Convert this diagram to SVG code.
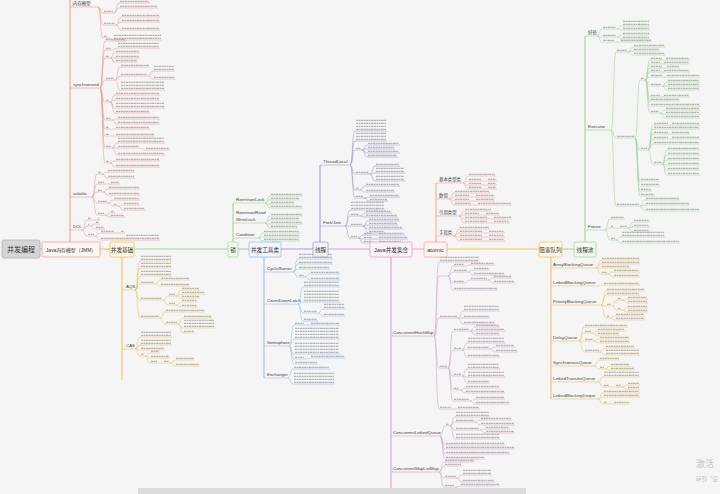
<svg xmlns="http://www.w3.org/2000/svg" width="720" height="494" viewBox="0 0 720 494">
<style>
.u{fill:none;stroke-width:.6}
.tr{fill:none;stroke-width:1.1}
.t{fill:none;stroke:#b3b3b3;stroke-width:1.1;stroke-dasharray:2.2 .5 1.4 .5 2.8 .5 1.8 .5}
.R{stroke:#f19d93}.O{stroke:#f6c15a}.G{stroke:#a3d795}.B{stroke:#9cc0ec}.P{stroke:#a59bd8}.K{stroke:#d9a3d1}.S{stroke:#f4aaa1}
.lb{font-family:"Liberation Sans","Noto Sans CJK SC",sans-serif;font-size:4.4px;fill:#444}
.bx{font-family:"Liberation Sans","Noto Sans CJK SC",sans-serif;font-size:5.6px;fill:#333;text-anchor:middle}
</style>
<rect width="720" height="494" fill="#f5f5f5"/>

<g id="connectors">
<path class="tr R" d="M40 249H42M70 242V-2"/>
<path class="tr O" d="M100 249H110M122 256V380M447 249H539M551 256V399"/>
<path class="tr G" d="M134 249H228M233 242V203M562 249H574M585 242V36"/>
<path class="tr B" d="M238 249H249M264 256V378"/>
<path class="tr P" d="M281 249H313M320 242V165"/>
<path class="tr K" d="M328 249H370M391 256V494"/>
<path class="tr S" d="M412 249H424M436 242V183"/>
</g>

<g id="branch-jmm">
<path class="u R" d="M70 7H98M70 88H100M70 197H92M70 230H82
M98 7C101 7 100 13 103 13H114M114 13C117 13 116 3 119 3H150M114 13C117 13 116 8 119 8H158M98 7C101 7 100 25 103 25H116M116 25C119 25 118 17 121 17H160M116 25C119 25 118 22 121 22H160M116 25C119 25 118 30 121 30H160M98 7C101 7 100 38 103 38H108M108 38C111 38 110 40 113 40H162
M100 88C103 88 102 41 105 41H126M100 88C103 88 102 50 105 50H112M112 50C115 50 114 48 117 48H160M100 88C103 88 102 58 105 58H110M110 58C113 58 112 53 115 53H140M110 58C113 58 112 58 115 58H140M110 58C113 58 112 62 115 62H138M100 88C103 88 102 80 105 80H115M115 80C118 80 117 67 120 67H150M115 80C118 80 117 76 120 76H148M148 76C151 76 150 71 153 71H175M148 76C151 76 150 79 153 79H175M115 80C118 80 117 90 120 90H165M100 88C103 88 102 102 105 102H110M110 102C113 102 112 95 115 95H160M110 102C113 102 112 100 115 100H160M110 102C113 102 112 108 115 108H165M110 102C113 102 112 113 115 113H150M100 88C103 88 102 120 105 120H112M112 120C115 120 114 119 117 119H160M112 120C115 120 114 124 117 124H160M100 88C103 88 102 129 105 129H110M110 129C113 129 112 129 115 129H150M100 88C103 88 102 136 105 136H110M110 136C113 136 112 136 115 136H155M100 88C103 88 102 148 105 148H112M112 148C115 148 114 143 117 143H165M112 148C115 148 114 148 117 148H140M140 148C143 148 142 150 145 150H170M112 148C115 148 114 155 117 155H165M100 88C103 88 102 163 105 163H110M110 163C113 163 112 161 115 161H160M110 163C113 163 112 167 115 167H160
M92 197C95 197 94 174 97 174H102M102 174C105 174 104 172 107 172H135M102 174C105 174 104 178 107 178H135M92 197C95 197 94 184 97 184H105M105 184C108 184 107 184 110 184H120M92 197C95 197 94 192 97 192H103M103 192C106 192 105 189 108 189H140M103 192C106 192 105 195 108 195H140M92 197C95 197 94 203 97 203H108M108 203C111 203 110 200 113 200H140M108 203C111 203 110 206 113 206H118M118 206C121 206 120 205 123 205H140M118 206C121 206 120 210 123 210H145M92 197C95 197 94 215 97 215H105M105 215C108 215 107 213 110 213H115M105 215C108 215 107 217 110 217H125
M82 230C85 230 84 220 87 220H92M92 220C95 220 94 220 97 220H100M82 230C85 230 84 226 87 226H90M90 226C93 226 92 224 95 224H100M90 226C93 226 92 229 95 229H105M82 230C85 230 84 236 87 236H95M95 236C98 236 97 233 100 233H115M115 233C118 233 117 233 120 233H125M95 236C98 236 97 240 100 240H160"/>
<path class="t" d="M104 11.4H113M120 1.4H149M120 6.4H157M104 23.4H115M122 15.4H159M122 20.4H159M122 28.4H159M104 36.4H107M114 38.4H161M114 35.4H161
M106 39.4H125M106 48.4H111M118 46.4H159M118 43.4H159M106 56.4H109M116 51.4H139M116 56.4H139M116 60.4H137M106 78.4H114M121 65.4H149M121 74.4H147M154 69.4H174M154 66.4H174M154 77.4H174M121 88.4H164M121 85.4H164M121 82.4H164M106 100.4H109M116 93.4H159M116 98.4H159M116 106.4H164M116 103.4H164M116 111.4H149M106 118.4H111M118 117.4H159M118 122.4H159M106 127.4H109M116 127.4H149M106 134.4H109M116 134.4H154M106 146.4H111M118 141.4H164M118 138.4H164M118 146.4H139M146 148.4H169M118 153.4H164M106 161.4H109M116 159.4H159M116 165.4H159
M98 172.4H101M108 170.4H134M108 176.4H134M98 182.4H104M111 182.4H119M98 190.4H102M109 187.4H139M109 193.4H139M98 201.4H107M114 198.4H139M114 204.4H117M124 203.4H139M124 208.4H144M98 213.4H104M111 211.4H114M111 215.4H124
M88 218.4H91M98 218.4H99M88 224.4H89M96 222.4H99M96 227.4H104M88 234.4H94M101 231.4H114M121 231.4H124M101 238.4H159M126 235.4H159"/>
<text class="lb" x="73" y="5">内存模型</text>
<text class="lb" x="73" y="86">synchronized</text>
<text class="lb" x="73" y="195">volatile</text>
<text class="lb" x="73" y="228">DCL</text>
</g>

<g id="branch-basic">
<path class="u O" d="M122 290H135M122 349H135
M135 290C138 290 137 261 140 261H172M135 290C138 290 137 268 140 268H172M135 290C138 290 137 276 140 276H172M135 290C138 290 137 284 140 284H155M155 284C158 284 157 280 160 280H190M155 284C158 284 157 286 160 286H190M135 290C138 290 137 300 140 300H163M163 300C166 300 165 296 168 296H176M176 296C179 296 178 290 181 290H200M176 296C179 296 178 294 181 294H205M176 296C179 296 178 298 181 298H200M163 300C166 300 165 305 168 305H176M176 305C179 305 178 302 181 302H198M176 305C179 305 178 307 181 307H198M135 290C138 290 137 318 140 318H160M160 318C163 318 162 312 165 312H205M160 318C163 318 162 324 165 324H178M178 324C181 324 180 318 183 318H212M178 324C181 324 180 328 183 328H215M178 324C181 324 180 333 183 333H195
M135 349C138 349 137 337 140 337H172M135 349C138 349 137 345 140 345H172M135 349C138 349 137 350 140 350H165M135 349C138 349 137 356 140 356H145M145 356C148 356 147 353 150 353H160M145 356C148 356 147 358 150 358H170M145 356C148 356 147 363 150 363H158M158 363C161 363 160 363 163 363H170M170 363C173 363 172 360 175 360H195M170 363C173 363 172 366 175 366H200"/>
<path class="t" d="M141 259.4H171M141 256.4H171M141 266.4H171M141 263.4H171M141 274.4H171M141 271.4H171M141 282.4H154M161 278.4H189M161 284.4H189M141 298.4H162M169 294.4H175M182 288.4H199M182 292.4H204M182 296.4H199M169 303.4H175M182 300.4H197M182 305.4H197M141 316.4H159M166 310.4H204M166 322.4H177M184 316.4H211M184 326.4H214M184 323.4H214M184 320.4H214M184 331.4H194M141 335.4H171M141 332.4H171M141 343.4H171M141 340.4H171M141 348.4H164M141 354.4H144M151 351.4H159M151 356.4H169M151 361.4H157M164 361.4H169M176 358.4H194M176 364.4H199"/>
<text class="lb" x="126" y="288">AQS</text>
<text class="lb" x="126" y="347">CAS</text>
</g>

<g id="branch-lock">
<path class="u G" d="M233 203H265M233 223H265M233 238H258
M265 203C268 203 267 196 270 196H303M265 203C268 203 267 200 270 200H300M265 203C268 203 267 204 270 204H295M265 203C268 203 267 208 270 208H303M265 223C268 223 267 216 270 216H303M265 223C268 223 267 220 270 220H300M265 223C268 223 267 224 270 224H303M265 223C268 223 267 228 270 228H298M258 238C261 238 260 233 263 233H300M258 238C261 238 260 237 263 237H300M258 238C261 238 260 241 263 241H300"/>
<path class="t" d="M271 194.4H302M271 198.4H299M271 202.4H294M271 206.4H302M271 214.4H302M271 218.4H299M271 222.4H302M271 226.4H297M264 231.4H299M264 235.4H299M264 239.4H299"/>
<text class="lb" x="236" y="201">ReentrantLock</text>
<text class="lb" x="236" y="214">ReentrantRead</text>
<text class="lb" x="236" y="221">WriteLock</text>
<text class="lb" x="236" y="236">Condition</text>
</g>

<g id="branch-tools">
<path class="u B" d="M264 272H293M264 304H298M264 346H289M264 378H288
M293 272C296 272 295 259 298 259H333M293 272C296 272 295 264 298 264H333M293 272C296 272 295 269 298 269H330M293 272C296 272 295 277 298 277H305M305 277C308 277 307 274 310 274H340M305 277C308 277 307 280 310 280H340M298 304C301 304 300 287 303 287H340M298 304C301 304 300 302 303 302H340M298 304C301 304 300 313 303 313H318M318 313C321 313 320 309 323 309H345M318 313C321 313 320 316 323 316H345M298 304C301 304 300 321 303 321H318M289 346C292 346 291 325 294 325H305M305 325C308 325 307 325 310 325H340M289 346C292 346 291 339 294 339H340M289 346C292 346 291 354 294 354H340M289 346C292 346 291 359 294 359H305M305 359C308 359 307 358 310 358H345M289 346C292 346 291 364 294 364H318M288 378C291 378 290 369 293 369H330M288 378C291 378 290 384 293 384H335"/>
<path class="t" d="M299 257.4H332M299 254.4H332M299 262.4H332M299 267.4H329M299 275.4H304M311 272.4H339M311 278.4H339M304 285.4H339M304 282.4H339M304 300.4H339M304 297.4H339M304 294.4H339M304 291.4H339M304 311.4H317M324 307.4H344M324 304.4H344M324 314.4H344M304 319.4H317M295 323.4H304M311 323.4H339M295 337.4H339M295 334.4H339M295 331.4H339M295 328.4H339M295 352.4H339M295 349.4H339M295 346.4H339M295 343.4H339M295 357.4H304M311 356.4H344M295 362.4H317M294 367.4H329M294 382.4H334M294 379.4H334M294 376.4H334M294 373.4H334"/>
<text class="lb" x="267" y="270">CyclicBarrier</text>
<text class="lb" x="267" y="302">CountDownLatch</text>
<text class="lb" x="267" y="344">Semaphore</text>
<text class="lb" x="267" y="376">Exchanger</text>
</g>

<g id="branch-thread">
<path class="u P" d="M320 165H350M320 226H345
M350 165C353 165 352 131 355 131H387M350 165C353 165 352 141 355 141H387M350 165C353 165 352 150 355 150H362M362 150C365 150 364 145 367 145H400M362 150C365 150 364 149 367 149H395M362 150C365 150 364 153 367 153H400M362 150C365 150 364 157 367 157H398M350 165C353 165 352 174 355 174H370M370 174C373 174 372 166 375 166H400M370 174C373 174 372 173 375 173H405M370 174C373 174 372 181 375 181H405M350 165C353 165 352 190 355 190H360M360 190C363 190 362 186 365 186H400M360 190C363 190 362 192 365 192H395M350 165C353 165 352 198 355 198H364M364 198C367 198 366 197 369 197H400M364 198C367 198 366 201 369 201H388
M345 226C348 226 347 210 350 210H385M345 226C348 226 347 216 350 216H360M360 216C363 216 362 213 365 213H392M360 216C363 216 362 217 365 217H398M345 226C348 226 347 226 350 226H363M363 226C366 226 365 221 368 221H400M363 226C366 226 365 225 368 225H398M363 226C366 226 365 229 368 229H403M363 226C366 226 365 233 368 233H385M345 226C348 226 347 238 350 238H358M358 238C361 238 360 235 363 235H373M373 235C376 235 375 235 378 235H405M358 238C361 238 360 239 363 239H373M373 239C376 239 375 239 378 239H408M358 238C361 238 360 243 363 243H373M373 243C376 243 375 243 378 243H402"/>
<path class="t" d="M356 129.4H386M356 126.4H386M356 123.4H386M356 120.4H386M356 139.4H386M356 136.4H386M356 133.4H386M356 148.4H361M368 143.4H399M368 147.4H394M368 151.4H399M368 155.4H397M356 172.4H369M376 164.4H399M376 171.4H404M376 168.4H404M376 179.4H404M376 176.4H404M356 188.4H359M366 184.4H399M366 190.4H394M356 196.4H363M370 195.4H399M370 199.4H387M351 208.4H384M351 205.4H384M351 202.4H384M351 214.4H359M366 211.4H391M366 215.4H397M351 224.4H362M369 219.4H399M369 223.4H397M369 227.4H402M369 231.4H384M351 236.4H357M364 233.4H372M379 233.4H404M364 237.4H372M379 237.4H407M364 241.4H372M379 241.4H401"/>
<text class="lb" x="323" y="163">ThreadLocal</text>
<text class="lb" x="323" y="224">Fork/Join</text>
</g>

<g id="branch-collections">
<path class="u K" d="M391 336H434M391 436H440M391 472H439
M434 336C437 336 436 262 439 262H480M434 336C437 336 436 276 439 276H448M448 276C451 276 450 266 453 266H465M465 266C468 266 467 265 470 265H495M448 276C451 276 450 272 453 272H468M468 272C471 272 470 270 473 270H490M468 272C471 272 470 275 473 275H505M448 276C451 276 450 283 453 283H465M465 283C468 283 467 280 470 280H488M488 280C491 280 490 278 493 278H512M488 280C491 280 490 283 493 283H515M448 276C451 276 450 290 453 290H498M434 336C437 336 436 318 439 318H458M458 318C461 318 460 311 463 311H500M458 318C461 318 460 318 463 318H490M458 318C461 318 460 324 463 324H495M434 336C437 336 436 368 439 368H448M448 368C451 368 450 331 453 331H470M470 331C473 331 472 327 475 327H500M470 331C473 331 472 331 475 331H505M470 331C473 331 472 335 475 335H500M448 368C451 368 450 350 453 350H462M462 350C465 350 464 343 467 343H505M462 350C465 350 464 349 467 349H490M490 349C493 349 492 347 495 347H515M490 349C493 349 492 352 495 352H518M462 350C465 350 464 357 467 357H500M448 368C451 368 450 376 453 376H462M462 376C465 376 464 369 467 369H500M462 376C465 376 464 377 467 377H505M462 376C465 376 464 383 467 383H490M448 368C451 368 450 390 453 390H460M460 390C463 390 462 388 465 388H500M460 390C463 390 462 393 465 393H505M448 368C451 368 450 401 453 401H470M470 401C473 401 472 399 475 399H505M470 401C473 401 472 404 475 404H510M434 336C437 336 436 409 439 409H452M452 409C455 409 454 409 457 409H480
M440 436C443 436 442 426 445 426H450M450 426C453 426 452 417 455 417H490M450 426C453 426 452 422 455 422H475M475 422C478 422 477 420 480 420H512M475 422C478 422 477 425 480 425H515M450 426C453 426 452 430 455 430H480M480 430C483 430 482 429 485 429H510M480 430C483 430 482 433 485 433H515M450 426C453 426 452 439 455 439H500M440 436C443 436 442 445 445 445H505M440 436C443 436 442 449 445 449H515M440 436C443 436 442 454 445 454H510M440 436C443 436 442 459 445 459H485
M439 472C442 472 441 462 444 462H475M439 472C442 472 441 466 444 466H462M439 472C442 472 441 478 444 478H457M457 478C460 478 459 475 462 475H492M457 478C460 478 459 482 462 482H495M439 472C442 472 441 487 444 487H455M455 487C458 487 457 486 460 486H500M455 487C458 487 457 491 460 491H505"/>
<path class="t" d="M440 260.4H479M440 257.4H479M454 264.4H464M471 263.4H494M454 270.4H467M474 268.4H489M474 273.4H504M454 281.4H464M471 278.4H487M494 276.4H511M494 281.4H514M454 288.4H497M440 316.4H457M464 309.4H499M464 306.4H499M464 316.4H489M464 322.4H494M440 366.4H447M454 329.4H469M476 325.4H499M476 329.4H504M476 333.4H499M454 348.4H461M468 341.4H504M468 338.4H504M468 347.4H489M496 345.4H514M496 350.4H517M468 355.4H499M454 374.4H461M468 367.4H499M468 364.4H499M468 375.4H504M468 372.4H504M468 381.4H489M454 388.4H459M466 386.4H499M466 391.4H504M454 399.4H469M476 397.4H504M476 402.4H509M440 407.4H451M458 407.4H479
M446 424.4H449M456 415.4H489M456 412.4H489M456 420.4H474M481 418.4H511M481 423.4H514M456 428.4H479M486 427.4H509M486 431.4H514M456 437.4H499M456 434.4H499M446 443.4H504M446 447.4H514M446 452.4H509M446 457.4H484
M445 460.4H474M445 464.4H461M445 476.4H456M463 473.4H491M463 470.4H491M463 480.4H494M445 485.4H454M461 484.4H499M461 489.4H504"/>
<text class="lb" x="393" y="334">ConcurrentHashMap</text>
<text class="lb" x="393" y="434">ConcurrentLinkedQueue</text>
<text class="lb" x="393" y="470">ConcurrentSkipListMap</text>
</g>

<g id="branch-atomic">
<path class="u S" d="M436 183H463M436 199H449M436 216H459M436 236H454
M463 183C466 183 465 176 468 176H496M463 183C466 183 465 181 468 181H482M482 181C485 181 484 181 487 181H497M463 183C466 183 465 185 468 185H482M482 185C485 185 484 185 487 185H497M463 183C466 183 465 189 468 189H482M482 189C485 189 484 189 487 189H497M449 199C452 199 451 193 454 193H490M449 199C452 199 451 197 454 197H470M470 197C473 197 472 197 475 197H495M449 199C452 199 451 201 454 201H470M470 201C473 201 472 201 475 201H495M449 199C452 199 451 205 454 205H472M472 205C475 205 474 205 477 205H512M459 216C462 216 461 211 464 211H492M459 216C462 216 461 215 464 215H480M480 215C483 215 482 215 485 215H500M459 216C462 216 461 219 464 219H488M488 219C491 219 490 219 493 219H512M459 216C462 216 461 223 464 223H488M488 223C491 223 490 223 493 223H510M454 236C457 236 456 229 459 229H490M454 236C457 236 456 233 459 233H483M483 233C486 233 485 233 488 233H505M454 236C457 236 456 237 459 237H483M483 237C486 237 485 237 488 237H505M454 236C457 236 456 241 459 241H483M483 241C486 241 485 241 488 241H505"/>
<path class="t" d="M469 174.4H495M469 179.4H481M488 179.4H496M469 183.4H481M488 183.4H496M469 187.4H481M488 187.4H496M455 191.4H489M455 195.4H469M476 195.4H494M455 199.4H469M476 199.4H494M455 203.4H471M478 203.4H511M465 209.4H491M465 213.4H479M486 213.4H499M465 217.4H487M494 217.4H511M465 221.4H487M494 221.4H509M460 227.4H489M460 231.4H482M489 231.4H504M460 235.4H482M489 235.4H504M460 239.4H482M489 239.4H504"/>
<text class="lb" x="439" y="181">基本类型类</text>
<text class="lb" x="439" y="197">数组</text>
<text class="lb" x="439" y="214">引用类型</text>
<text class="lb" x="439" y="234">字段类</text>
</g>

<g id="branch-queue">
<path class="u O" d="M551 268H596M551 286H598M551 305H601M551 341H579M551 366H594M551 382H598M551 399H598
M596 268C599 268 598 260 601 260H640M596 268C599 268 598 264 601 264H640M596 268C599 268 598 268 601 268H630M596 268C599 268 598 274 601 274H608M608 274C611 274 610 272 613 272H640M608 274C611 274 610 277 613 277H640M598 286C601 286 600 285 603 285H640M601 305C604 305 603 291 606 291H645M601 305C604 305 603 295 606 295H640M601 305C604 305 603 306 606 306H612M612 306C615 306 614 300 617 300H622M622 300C625 300 624 299 627 299H648M622 300C625 300 624 303 627 303H648M612 306C615 306 614 310 617 310H622M622 310C625 310 624 308 627 308H648M622 310C625 310 624 312 627 312H648M601 305C604 305 603 318 606 318H610M610 318C613 318 612 316 615 316H645M610 318C613 318 612 320 615 320H645M579 341C582 341 581 327 584 327H628M579 341C582 341 581 333 584 333H592M592 333C595 333 594 331 597 331H625M592 333C595 333 594 335 597 335H620M579 341C582 341 581 341 584 341H594M594 341C597 341 596 339 599 339H630M594 341C597 341 596 343 599 343H630M579 341C582 341 581 352 584 352H600M600 352C603 352 602 348 605 348H635M600 352C603 352 602 355 605 355H640M594 366C597 366 596 360 599 360H620M594 366C597 366 596 369 599 369H605M605 369C608 369 607 366 610 366H630M605 369C608 369 607 370 610 370H635M598 382C601 382 600 377 603 377H640M598 382C601 382 600 387 603 387H610M610 387C613 387 612 387 615 387H622M622 387C625 387 624 385 627 385H640M622 387C625 387 624 389 627 389H640M598 399C601 399 600 393 603 393H640M598 399C601 399 600 397 603 397H640M598 399C601 399 600 404 603 404H608M608 404C611 404 610 404 613 404H630"/>
<path class="t" d="M602 258.4H639M602 262.4H639M602 266.4H629M602 272.4H607M614 270.4H639M614 275.4H639M604 283.4H639M607 289.4H644M607 293.4H639M607 304.4H611M618 298.4H621M628 297.4H647M628 301.4H647M618 308.4H621M628 306.4H647M628 310.4H647M607 316.4H609M616 314.4H644M616 318.4H644M585 325.4H627M585 331.4H591M598 329.4H624M598 333.4H619M585 339.4H593M600 337.4H629M600 341.4H629M585 350.4H599M606 346.4H634M606 353.4H639M606 350.4H639M600 358.4H619M600 367.4H604M611 364.4H629M611 368.4H634M604 375.4H639M604 372.4H639M604 385.4H609M616 385.4H621M628 383.4H639M628 387.4H639M604 391.4H639M604 395.4H639M604 402.4H607M614 402.4H629"/>
<text class="lb" x="553" y="266">ArrayBlockingQueue</text>
<text class="lb" x="553" y="284">LinkedBlockingQueue</text>
<text class="lb" x="553" y="303">PriorityBlockingQueue</text>
<text class="lb" x="553" y="339">DelayQueue</text>
<text class="lb" x="553" y="364">SynchronousQueue</text>
<text class="lb" x="553" y="380">LinkedTransferQueue</text>
<text class="lb" x="553" y="397">LinkedBlockingDeque</text>
</g>

<g id="branch-pool">
<path class="u G" d="M585 36H597M585 130H611M585 230H605
M597 36C600 36 599 29 602 29H617M617 29C620 29 619 26 622 26H650M617 29C620 29 619 30 622 30H650M597 36C600 36 599 37 602 37H617M617 37C620 37 619 35 622 35H650M617 37C620 37 619 39 622 39H650M597 36C600 36 599 42 602 42H615M615 42C618 42 617 42 620 42H652
M611 130C614 130 613 52 616 52H628M628 52C631 52 630 47 633 47H665M628 52C631 52 630 51 633 51H660M628 52C631 52 630 55 633 55H665M611 130C614 130 613 138 616 138H635M635 138C638 138 637 80 640 80H645
M645 80C648 80 647 60 650 60H690M645 80C648 80 647 64 650 64H690M645 80C648 80 647 68 650 68H680M645 80C648 80 647 72 650 72H690M645 80C648 80 647 77 650 77H700M645 80C648 80 647 86 650 86H662M662 86C665 86 664 82 667 82H700M662 86C665 86 664 86 667 86H700M662 86C665 86 664 90 667 90H700M645 80C648 80 647 97 650 97H690M645 80C648 80 647 101 650 101H680M645 80C648 80 647 106 650 106H700M645 80C648 80 647 113 650 113H660M660 113C663 113 662 110 665 110H700M660 113C663 113 662 114 665 114H700M660 113C663 113 662 118 665 118H700
M635 138C638 138 637 150 640 150H648M648 150C651 150 650 125 653 125H700M648 150C651 150 650 129 653 129H700M648 150C651 150 650 134 653 134H690M648 150C651 150 650 139 653 139H700M648 150C651 150 650 144 653 144H700M648 150C651 150 650 164 653 164H662M662 164C665 164 664 150 667 150H700M662 164C665 164 664 155 667 155H700M662 164C665 164 664 160 667 160H700M662 164C665 164 664 165 667 165H700M662 164C665 164 664 170 667 170H700M662 164C665 164 664 175 667 175H700
M635 138C638 138 637 181 640 181H660M635 138C638 138 637 186 640 186H660M635 138C638 138 637 191 640 191H652M635 138C638 138 637 196 640 196H655M611 130C614 130 613 206 616 206H640M640 206C643 206 642 200 645 200H680M640 206C643 206 642 205 645 205H690M640 206C643 206 642 211 645 211H700
M605 230C608 230 607 219 610 219H625M605 230C608 230 607 228 610 228H614M614 228C617 228 616 228 619 228H628M628 228C631 228 630 222 633 222H650M628 228C631 228 630 227 633 227H650M628 228C631 228 630 232 633 232H650M605 230C608 230 607 240 610 240H616M616 240C619 240 618 237 621 237H665M616 240C619 240 618 243 621 243H680"/>
<path class="t" d="M603 27.4H616M623 24.4H649M623 21.4H649M623 28.4H649M603 35.4H616M623 33.4H649M623 37.4H649M603 40.4H614M621 40.4H651M617 50.4H627M634 45.4H664M634 49.4H659M634 53.4H664M617 136.4H634M641 78.4H644
M651 58.4H662M666 58.4H689M651 62.4H660M664 62.4H689M651 66.4H662M667 66.4H679M651 70.4H660M664 70.4H689M651 75.4H662M667 75.4H699M651 84.4H661M668 80.4H699M668 84.4H699M668 88.4H699M651 95.4H660M664 95.4H689M651 99.4H679M651 104.4H699M651 111.4H659M666 108.4H699M666 112.4H699M666 116.4H699
M641 148.4H647M654 123.4H668M672 123.4H699M654 127.4H699M654 132.4H668M672 132.4H689M654 137.4H668M672 137.4H699M654 142.4H699M654 162.4H661M668 148.4H699M668 153.4H699M668 158.4H699M668 163.4H699M668 168.4H699M668 173.4H699
M641 179.4H659M641 184.4H659M641 189.4H651M641 194.4H654M617 204.4H639M646 198.4H679M646 203.4H689M646 209.4H699
M611 217.4H624M611 226.4H613M620 226.4H627M634 220.4H649M634 225.4H649M634 230.4H649M611 238.4H615M622 235.4H664M622 232.4H664M622 241.4H679"/>
<text class="lb" x="588" y="34">好处</text>
<text class="lb" x="588" y="128">Executor</text>
<text class="lb" x="588" y="228">Future</text>
</g>

<g id="node-root"><rect x="2" y="240" width="38" height="18" rx="2" fill="#d5d5d5" stroke="#b0b0b0" stroke-width=".8"/><text class="bx" x="21" y="251.5" style="font-size:7px">并发编程</text></g>
<g id="node-jmm"><rect x="42" y="242" width="58" height="15" rx="1.5" fill="#fff6f5" stroke="#f19d93" stroke-width=".8"/><text class="bx" x="71" y="251.5" style="font-size:4.9px">Java内存模型（JMM）</text></g>
<g id="node-basic"><rect x="110" y="242" width="24" height="15" rx="1.5" fill="#fff8e6" stroke="#f6c15a" stroke-width=".8"/><text class="bx" x="122" y="251.5">并发基础</text></g>
<g id="node-lock"><rect x="228" y="242" width="10" height="15" rx="1.5" fill="#f0faed" stroke="#a3d795" stroke-width=".8"/><text class="bx" x="233" y="251.5">锁</text></g>
<g id="node-tools"><rect x="249" y="242" width="32" height="15" rx="1.5" fill="#eef5fd" stroke="#9cc0ec" stroke-width=".8"/><text class="bx" x="265" y="251.5">并发工具类</text></g>
<g id="node-thread"><rect x="313" y="242" width="15" height="15" rx="1.5" fill="#f3f1fb" stroke="#a59bd8" stroke-width=".8"/><text class="bx" x="320.5" y="251.5">线程</text></g>
<g id="node-collections"><rect x="370" y="242" width="42" height="15" rx="1.5" fill="#fbf1fa" stroke="#d9a3d1" stroke-width=".8"/><text class="bx" x="391" y="251.5">Java并发集合</text></g>
<g id="node-atomic"><rect x="424" y="242" width="23" height="15" rx="1.5" fill="#fef3f1" stroke="#f4aaa1" stroke-width=".8"/><text class="bx" x="435.5" y="251.5">atomic</text></g>
<g id="node-queue"><rect x="539" y="242" width="23" height="15" rx="1.5" fill="#fff8e6" stroke="#f6c15a" stroke-width=".8"/><text class="bx" x="550.5" y="251.5">阻塞队列</text></g>
<g id="node-pool"><rect x="574" y="242" width="22" height="15" rx="1.5" fill="#f0faed" stroke="#a3d795" stroke-width=".8"/><text class="bx" x="585" y="251.5">线程池</text></g>

<rect x="138" y="488" width="388" height="6" fill="#dcdcdc"/>
<text x="696" y="467" font-family="Noto Sans CJK SC,sans-serif" font-size="9" fill="#c6c6c6">激活</text>
<text x="696" y="481" font-family="Noto Sans CJK SC,sans-serif" font-size="5.5" fill="#c6c6c6">转到“设</text>
</svg>
